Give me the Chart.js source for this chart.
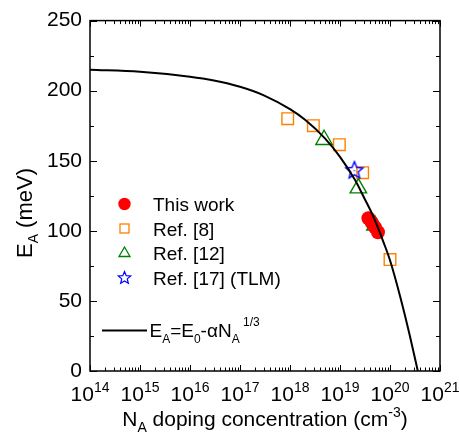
<!DOCTYPE html>
<html><head><meta charset="utf-8">
<script src="https://cdn.jsdelivr.net/npm/chart.js@4/dist/chart.umd.min.js"></script>
<style>html,body{margin:0;padding:0;background:#fff}#wrap{width:459px;height:436px}</style>
</head><body><div id="wrap"><canvas id="c" width="459" height="436"></canvas></div>
<script>
// ---- data ----
const thisWorkN = [3.7e19, 4.3e19, 5.0e19, 5.75e19];
const thisWorkE = [109, 106, 102.5, 99];
const ref8N = [9e17, 2.93e18, 9.7e18, 2.84e19, 1e20];
const ref8E = [180, 175, 161.5, 141.5, 79.5];
const ref12N = [4.8e18, 2.33e19, 5.0e19];
const ref12E = [165, 130.5, 104];
const ref17N = [1.94e19];
const ref17E = [143.5];
const fitN = [1e14, 1e15, 1e16, 3e16, 1e17, 3e17, 1e18, 2e18, 5e18, 1e19, 2e19, 3e19, 4.3e19, 6e19, 7.4e19, 1e20, 1.6e20, 2.5e20, 3.6e20];
const fitE = [215, 213.5, 210, 207.3, 202.8, 196.7, 186.8, 179.2, 166, 152.8, 136.2, 124, 112.8, 100.5, 92, 79, 53, 25, 0];
const xTickExps = [14, 15, 16, 17, 18, 19, 20, 21];
const yMajorTicks = [0, 50, 100, 150, 200, 250];
const yMinorTicks = [25, 75, 125, 175, 225];
const legendLabels = ['This work', 'Ref. [8]', 'Ref. [12]', 'Ref. [17] (TLM)'];

const FONT = "'Liberation Sans', Arial, Helvetica, sans-serif";
const RED = '#FF0000', ORANGE = '#FF8000', GREEN = '#008000', BLUE = '#0000FF';

function pts(xs, ys) { return xs.map((x, i) => ({x: x, y: ys[i]})); }

function starPath(ctx, cx, cy, R, r) {
  ctx.beginPath();
  for (let k = 0; k < 10; k++) {
    const a = -Math.PI / 2 + k * Math.PI / 5;
    const rr = (k % 2 === 0) ? R : r;
    const px = cx + rr * Math.cos(a), py = cy + rr * Math.sin(a);
    if (k === 0) ctx.moveTo(px, py); else ctx.lineTo(px, py);
  }
  ctx.closePath();
}
function makeStar(R) {
  const c = document.createElement('canvas');
  const s = Math.ceil(2 * R + 4);
  c.width = s; c.height = s;
  const g = c.getContext('2d');
  g.strokeStyle = BLUE; g.lineWidth = 1.4; g.lineJoin = 'miter';
  starPath(g, s / 2, s / 2 + 0.8, R, R * 0.45);
  g.stroke();
  g.fillStyle = BLUE;
  g.fillRect(s / 2 - 0.6, s / 2 + 0.2, 1.2, 1.2);
  return c;
}
const starBig = makeStar(9);

function drawRich(ctx, parts, x, y, align) {
  let w = 0;
  parts.forEach(p => { ctx.font = p.size + 'px ' + FONT; w += ctx.measureText(p.t).width; });
  let cx = align === 'center' ? x - w / 2 : (align === 'right' ? x - w : x);
  ctx.textAlign = 'left'; ctx.textBaseline = 'alphabetic';
  parts.forEach(p => {
    ctx.font = p.size + 'px ' + FONT;
    ctx.fillText(p.t, cx, y + (p.dy || 0));
    cx += ctx.measureText(p.t).width;
  });
}

const decor = {
  id: 'decor',
  afterDraw(chart) {
    const ctx = chart.ctx, a = chart.chartArea;
    const xs = chart.scales.x, ys = chart.scales.y;
    ctx.save();
    ctx.strokeStyle = '#000'; ctx.fillStyle = '#000';
    // frame
    ctx.lineWidth = 1.5;
    ctx.strokeRect(a.left, a.top, a.right - a.left, a.bottom - a.top);
    // x ticks
    ctx.lineWidth = 1;
    ctx.beginPath();
    xTickExps.forEach((e, i) => {
      const px = Math.round(xs.getPixelForValue(Math.pow(10, e))) + 0.5;
      ctx.moveTo(px, a.bottom); ctx.lineTo(px, a.bottom - 6);
      ctx.moveTo(px, a.top); ctx.lineTo(px, a.top + 6);
      if (i < xTickExps.length - 1) {
        for (let m = 2; m <= 9; m++) {
          const q = Math.round(xs.getPixelForValue(m * Math.pow(10, e))) + 0.5;
          ctx.moveTo(q, a.bottom); ctx.lineTo(q, a.bottom - 3.5);
          ctx.moveTo(q, a.top); ctx.lineTo(q, a.top + 3.5);
        }
      }
    });
    yMajorTicks.forEach(v => {
      const py = Math.round(ys.getPixelForValue(v)) + 0.5;
      ctx.moveTo(a.left, py); ctx.lineTo(a.left + 7, py);
      ctx.moveTo(a.right, py); ctx.lineTo(a.right - 7, py);
    });
    yMinorTicks.forEach(v => {
      const py = Math.round(ys.getPixelForValue(v)) + 0.5;
      ctx.moveTo(a.left, py); ctx.lineTo(a.left + 4, py);
      ctx.moveTo(a.right, py); ctx.lineTo(a.right - 4, py);
    });
    ctx.stroke();
    // x tick labels
    xTickExps.forEach(e => {
      const px = xs.getPixelForValue(Math.pow(10, e));
      drawRich(ctx, [{t: '10', size: 21}, {t: String(e), size: 14, dy: -9}], px, 400.5, 'center');
    });
    // axis titles
    drawRich(ctx, [
      {t: 'N', size: 21}, {t: 'A', size: 14, dy: 6},
      {t: ' doping concentration (cm', size: 21},
      {t: '-3', size: 14, dy: -9}, {t: ')', size: 21}
    ], 265, 426, 'center');
    ctx.save();
    ctx.translate(32, 213);
    ctx.rotate(-Math.PI / 2);
    drawRich(ctx, [{t: 'E', size: 22}, {t: 'A', size: 14, dy: 6}, {t: ' (meV)', size: 22}], 0, 0, 'center');
    ctx.restore();
    // legend
    const mx = 124.5, tx = 153, rows = [204, 228.5, 253, 277.5];
    ctx.fillStyle = RED;
    ctx.beginPath(); ctx.arc(mx, rows[0], 6.2, 0, Math.PI * 2); ctx.fill();
    ctx.strokeStyle = ORANGE; ctx.lineWidth = 1.3;
    ctx.strokeRect(mx - 4.5, rows[1] - 4.5, 9, 9);
    ctx.strokeStyle = GREEN;
    ctx.beginPath();
    ctx.moveTo(mx, rows[2] - 6); ctx.lineTo(mx + 5.5, rows[2] + 3.5); ctx.lineTo(mx - 5.5, rows[2] + 3.5); ctx.closePath();
    ctx.stroke();
    ctx.strokeStyle = BLUE; ctx.lineWidth = 1.2;
    starPath(ctx, mx, rows[3] + 0.5, 6.5, 2.9); ctx.stroke();
    ctx.fillStyle = '#000';
    legendLabels.forEach((l, i) => {
      ctx.font = '19px ' + FONT; ctx.textAlign = 'left'; ctx.textBaseline = 'alphabetic';
      ctx.fillText(l, tx, rows[i] + 7);
    });
    // equation legend
    ctx.strokeStyle = '#000'; ctx.lineWidth = 1.8;
    ctx.beginPath(); ctx.moveTo(102, 330.5); ctx.lineTo(147, 330.5); ctx.stroke();
    drawRich(ctx, [
      {t: 'E', size: 19}, {t: 'A', size: 12, dy: 6}, {t: '=E', size: 19}, {t: '0', size: 12, dy: 6},
      {t: '-\u03B1N', size: 19}, {t: 'A', size: 12, dy: 6}, {t: ' 1/3', size: 12, dy: -11}
    ], 149.5, 337.3, 'left');
    ctx.restore();
  }
};

new Chart(document.getElementById('c'), {
  type: 'scatter',
  data: {
    datasets: [
      {label: 'fit', data: pts(fitN, fitE), showLine: true, borderColor: '#000', borderWidth: 2,
       pointRadius: 0, cubicInterpolationMode: 'monotone', order: 0},
      {label: legendLabels[0], data: pts(thisWorkN, thisWorkE), pointStyle: 'circle', pointRadius: 7,
       backgroundColor: RED, borderColor: RED, borderWidth: 0, order: 1},
      {label: legendLabels[1], data: pts(ref8N, ref8E), pointStyle: 'rect', pointRadius: 8.2,
       backgroundColor: 'rgba(0,0,0,0)', borderColor: ORANGE, borderWidth: 1.4, order: 3},
      {label: legendLabels[2], data: pts(ref12N, ref12E), pointStyle: 'triangle', pointRadius: 9.5,
       backgroundColor: 'rgba(0,0,0,0)', borderColor: GREEN, borderWidth: 1.4, order: 2},
      {label: legendLabels[3], data: pts(ref17N, ref17E), pointStyle: starBig, pointRadius: 9,
       backgroundColor: BLUE, borderColor: BLUE, order: 2}
    ]
  },
  options: {
    responsive: false, animation: false, devicePixelRatio: 1,
    layout: {padding: {top: 15, right: 19, left: 0, bottom: 0}},
    plugins: {legend: {display: false}, tooltip: {enabled: false}},
    scales: {
      x: {type: 'logarithmic', min: 1e14, max: 1e21,
          grid: {display: false, drawTicks: false}, border: {display: false},
          ticks: {display: false},
          afterFit(s) { s.height = 65; }},
      y: {type: 'linear', min: 0, max: 250,
          grid: {display: false, drawTicks: false}, border: {display: false},
          ticks: {stepSize: 50, color: '#000', padding: 8, font: {family: FONT, size: 21}},
          afterFit(s) { s.width = 90; }}
    }
  },
  plugins: [decor]
});
</script>
</body></html>
